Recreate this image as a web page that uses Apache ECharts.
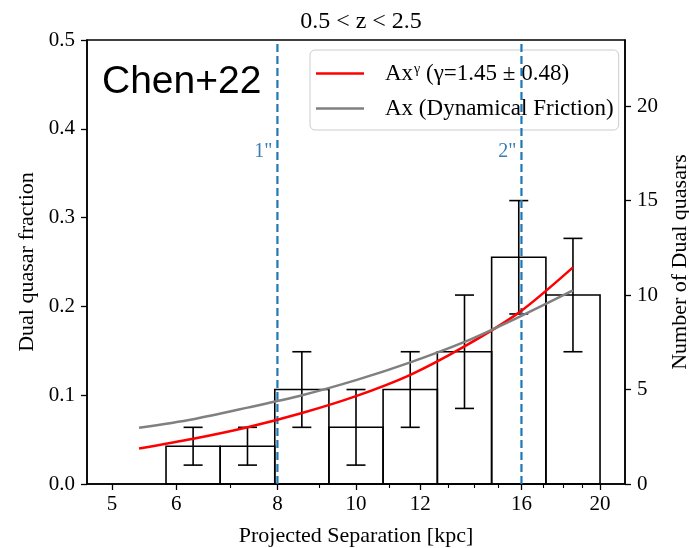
<!DOCTYPE html>
<html>
<head>
<meta charset="utf-8">
<script src="https://cdn.jsdelivr.net/npm/echarts@6/dist/echarts.min.js"></script>
<style>html,body{margin:0;padding:0;background:#fff}#c{width:689px;height:548px}</style>
</head>
<body>
<div id="c"></div>
<script>
// ---- data ----
const binEdgesKpc = [5.83, 6.80, 7.94, 9.26, 10.80, 12.60, 14.70, 17.15, 20.0];
const dualCounts = [2, 2, 5, 3, 5, 7, 12, 10];
const countErrors = [1, 1, 2, 2, 2, 3, 3, 3];
const curveSepKpc = [5.40, 6.30, 7.35, 8.58, 10.0, 11.67, 13.61, 15.88, 18.52];
const powerLawFrac = [0.040, 0.051, 0.064, 0.080, 0.099, 0.123, 0.155, 0.193, 0.244];
const dynFrictionFrac = [0.0634, 0.073, 0.086, 0.100, 0.117, 0.137, 0.160, 0.188, 0.218];
const xMajorTicks = [5, 6, 8, 10, 12, 16, 20];
const xMinorTicks = [7, 9, 11, 13, 14, 15, 17, 18, 19];
const fracTicks = [0, 0.1, 0.2, 0.3, 0.4, 0.5];
const countTicks = [0, 5, 10, 15, 20];
const refSepKpc = [8, 16];
const refLabels = ['1"', '2"'];
const xRangeKpc = [4.658, 21.47];
const fracMax = 0.5;
const countMax = 23.5;

const L = Math.log10;
const serif = '"Liberation Serif", "Times New Roman", "DejaVu Serif", serif';
const sans = '"Liberation Sans", Arial, "DejaVu Sans", sans-serif';

const barData = dualCounts.map((n, i) => [L(binEdgesKpc[i]), L(binEdgesKpc[i + 1]), n]);
const errData = dualCounts.map((n, i) => [(L(binEdgesKpc[i]) + L(binEdgesKpc[i + 1])) / 2, n - countErrors[i], n + countErrors[i]]);
const redData = curveSepKpc.map((x, i) => [L(x), powerLawFrac[i]]);
const grayData = curveSepKpc.map((x, i) => [L(x), dynFrictionFrac[i]]);
const refData = refSepKpc.map((x, i) => [L(x), i]);

const chart = echarts.init(document.getElementById('c'), null, {renderer: 'canvas'});

const xAxisBase = {
  type: 'value', min: L(xRangeKpc[0]), max: L(xRangeKpc[1]),
  splitLine: {show: false}
};

const option = {
  backgroundColor: '#fff',
  animation: false,
  title: [
    {text: '0.5 < z < 2.5', left: 356, top: 5, textAlign: 'center',
     textStyle: {fontFamily: serif, fontSize: 24, fontWeight: 'normal', color: '#000'}},
    {text: 'Chen+22', left: 97, top: 58,
     textStyle: {fontFamily: sans, fontSize: 39, fontWeight: 'normal', color: '#000'}}
  ],
  grid: {left: 87, right: 64, top: 40, bottom: 64, show: true, borderColor: '#000', borderWidth: 1.5,
    backgroundColor: 'transparent', outerBoundsMode: 'none', containLabel: false},
  legend: {
    orient: 'vertical', left: 310, top: 50, align: 'left',
    backgroundColor: 'rgba(255,255,255,0.8)', borderColor: '#cccccc', borderWidth: 1, borderRadius: 5,
    padding: [12, 5, 10, 6], itemGap: 11, itemWidth: 48, itemHeight: 2.5,
    data: [{name: 'Ax^γ (γ=1.45 ± 0.48)', icon: 'rect'}, {name: 'Ax (Dynamical Friction)', icon: 'rect'}],
    formatter: function (name) {
      if (name.indexOf('^') >= 0) return '{g|}{t|Ax}{s|γ}{t| (γ=1.45 ± 0.48)}';
      return '{g|}{t|' + name + '}';
    },
    textStyle: {
      fontFamily: serif, fontSize: 23, color: '#000',
      rich: {
        g: {width: 16},
        t: {fontFamily: serif, fontSize: 23, color: '#000', lineHeight: 22},
        s: {fontFamily: serif, fontSize: 14, color: '#000', verticalAlign: 'top', padding: [0, 0, 10, 1], lineHeight: 22}
      }
    }
  },
  xAxis: [
    Object.assign({}, xAxisBase, {
      position: 'bottom',
      name: 'Projected Separation [kpc]', nameLocation: 'middle', nameGap: 41,
      nameTextStyle: {fontFamily: serif, fontSize: 22, color: '#000'},
      axisLine: {show: true, lineStyle: {color: '#000', width: 1.5}},
      axisTick: {show: true, length: 6, lineStyle: {color: '#000', width: 1.3}, customValues: xMajorTicks.map(L)},
      axisLabel: {show: true, margin: 10, fontFamily: serif, fontSize: 21, color: '#000',
        customValues: xMajorTicks.map(L),
        formatter: v => String(Math.round(Math.pow(10, v)))}
    }),
    Object.assign({}, xAxisBase, {
      position: 'bottom',
      axisLine: {show: false},
      axisTick: {show: true, length: 4, lineStyle: {color: '#000', width: 1.1}, customValues: xMinorTicks.map(L)},
      axisLabel: {show: false}
    })
  ],
  yAxis: [
    {
      type: 'value', position: 'left', min: 0, max: fracMax, interval: 0.1,
      name: 'Dual quasar fraction', nameLocation: 'middle', nameGap: 49,
      nameTextStyle: {fontFamily: serif, fontSize: 22, color: '#000'},
      axisLine: {show: true, lineStyle: {color: '#000', width: 1.5}},
      axisTick: {show: true, length: 6, lineStyle: {color: '#000', width: 1.3}, customValues: fracTicks},
      axisLabel: {margin: 12, fontFamily: serif, fontSize: 21, color: '#000', customValues: fracTicks,
        formatter: v => v.toFixed(1)},
      splitLine: {show: false}
    },
    {
      type: 'value', position: 'right', min: 0, max: countMax,
      name: 'Number of Dual quasars', nameLocation: 'middle', nameGap: 42,
      nameTextStyle: {fontFamily: serif, fontSize: 22, color: '#000'},
      axisLine: {show: true, lineStyle: {color: '#000', width: 1.5}},
      axisTick: {show: true, length: 6, lineStyle: {color: '#000', width: 1.3}, customValues: countTicks},
      axisLabel: {margin: 12, fontFamily: serif, fontSize: 21, color: '#000', customValues: countTicks},
      splitLine: {show: false}
    }
  ],
  series: [
    {
      type: 'custom', name: 'bars', xAxisIndex: 0, yAxisIndex: 1, data: barData, z: 2,
      renderItem: function (params, api) {
        const p0 = api.coord([api.value(0), api.value(2)]);
        const p1 = api.coord([api.value(1), 0]);
        return {type: 'rect', shape: {x: p0[0], y: p0[1], width: p1[0] - p0[0], height: p1[1] - p0[1]},
          style: {fill: 'none', stroke: '#000', lineWidth: 1.6}};
      }
    },
    {
      type: 'custom', name: 'errors', xAxisIndex: 0, yAxisIndex: 1, data: errData, z: 3,
      renderItem: function (params, api) {
        const lo = api.coord([api.value(0), api.value(1)]);
        const hi = api.coord([api.value(0), api.value(2)]);
        const cw = 9.5;
        const st = {stroke: '#000', lineWidth: 1.6};
        return {type: 'group', children: [
          {type: 'line', shape: {x1: lo[0], y1: lo[1], x2: hi[0], y2: hi[1]}, style: st},
          {type: 'line', shape: {x1: lo[0] - cw, y1: lo[1], x2: lo[0] + cw, y2: lo[1]}, style: st},
          {type: 'line', shape: {x1: hi[0] - cw, y1: hi[1], x2: hi[0] + cw, y2: hi[1]}, style: st}
        ]};
      }
    },
    {
      type: 'custom', name: 'refs', xAxisIndex: 0, yAxisIndex: 0, data: refData, z: 4,
      renderItem: function (params, api) {
        const b = api.coord([api.value(0), 0]);
        const t = api.coord([api.value(0), fracMax]);
        const lab = api.coord([api.value(0), 0.374]);
        return {type: 'group', children: [
          {type: 'line', shape: {x1: b[0], y1: b[1], x2: t[0], y2: t[1]},
            style: {stroke: '#1f77b4', lineWidth: 2.2, lineDash: [8, 4]}},
          {type: 'text', x: lab[0] - 5, y: lab[1],
            style: {text: refLabels[api.value(1)], fill: '#3a7db5', font: '20px ' + serif, textAlign: 'right', textVerticalAlign: 'middle'}}
        ]};
      }
    },
    {
      type: 'line', name: 'Ax^γ (γ=1.45 ± 0.48)', xAxisIndex: 0, yAxisIndex: 0, data: redData,
      smooth: 0.3, showSymbol: false, symbol: 'none', z: 5,
      lineStyle: {color: '#ff0000', width: 2.5}, itemStyle: {color: '#ff0000'}
    },
    {
      type: 'line', name: 'Ax (Dynamical Friction)', xAxisIndex: 0, yAxisIndex: 0, data: grayData,
      smooth: 0.3, showSymbol: false, symbol: 'none', z: 5,
      lineStyle: {color: '#808080', width: 2.5}, itemStyle: {color: '#808080'}
    }
  ]
};
chart.setOption(option);
</script>
</body>
</html>
